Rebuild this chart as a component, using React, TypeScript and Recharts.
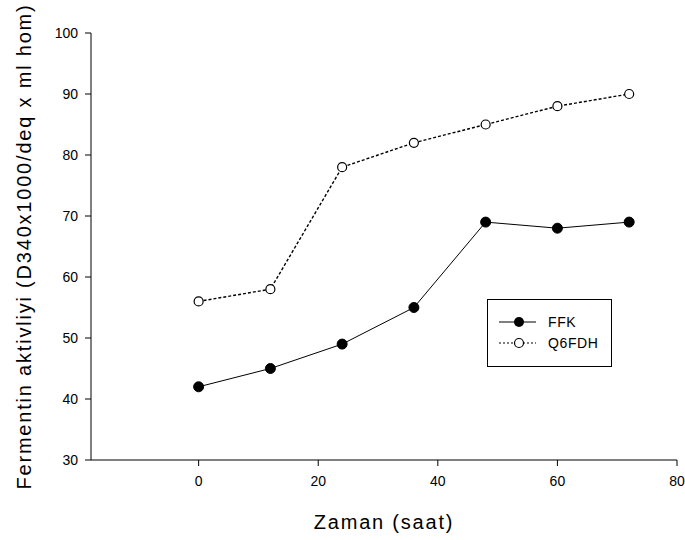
import { LineChart, Line, XAxis, YAxis, Legend } from "recharts";

const hours = [0, 12, 24, 36, 48, 60, 72];
const ffk = [42, 45, 49, 55, 69, 68, 69];
const q6fdh = [56, 58, 78, 82, 85, 88, 90];
const xTicks = [0, 20, 40, 60, 80];
const yTicks = [30, 40, 50, 60, 70, 80, 90, 100];

const data = hours.map((h, i) => ({ h, ffk: ffk[i], q6fdh: q6fdh[i] }));

const font = "'Liberation Sans', Arial, sans-serif";

function LegendBox() {
  return (
    <div
      style={{
        width: 125,
        height: 68,
        border: "1px solid #000",
        background: "#fff",
        boxSizing: "border-box",
      }}
    >
      <svg width={123} height={66} style={{ display: "block" }}>
        <line x1={11} y1={22} x2={48} y2={22} stroke="#000" strokeWidth={1} />
        <circle cx={31} cy={22} r={5} fill="#000" />
        <text x={60} y={27} fontSize={14} fontFamily={font} letterSpacing={0.6}>FFK</text>
        <line x1={11} y1={43} x2={48} y2={43} stroke="#000" strokeWidth={1.2} strokeDasharray="2 2" />
        <circle cx={31} cy={43} r={4.5} fill="#fff" stroke="#000" strokeWidth={1.2} />
        <text x={60} y={48} fontSize={14} fontFamily={font} letterSpacing={0.6}>Q6FDH</text>
      </svg>
    </div>
  );
}

export default function App() {
  return (
    <div style={{ position: "absolute", left: 0, top: 0 }}>
      <LineChart
        width={685}
        height={540}
        data={data}
        margin={{ top: 33, right: 8, bottom: 0, left: 0 }}
        style={{ fontFamily: font }}
      >
        <XAxis
          dataKey="h"
          type="number"
          domain={[-18, 80]}
          ticks={xTicks}
          allowDataOverflow
          stroke="#000"
          tickSize={6}
          tick={{ fill: "#000", fontSize: 14 }}
          tickMargin={10}
          height={80}
          label={{
            value: "Zaman (saat)",
            position: "insideBottom",
            offset: 11,
            fontSize: 20,
            fill: "#000",
            style: { letterSpacing: "1.8px" },
          }}
        />
        <XAxis
          xAxisId="top"
          dataKey="h"
          type="number"
          domain={[-18, 80]}
          orientation="top"
          stroke="#000"
          tick={false}
          tickLine={false}
          height={0}
        />
        <YAxis
          type="number"
          domain={[30, 100]}
          ticks={yTicks}
          stroke="#000"
          tickSize={6}
          tick={{ fill: "#000", fontSize: 14 }}
          tickMargin={7}
          width={91}
          label={{
            value: "Fermentin aktivliyi (D340x1000/deq x ml hom)",
            angle: -90,
            position: "insideLeft",
            offset: 24,
            fontSize: 20,
            fill: "#000",
            style: { textAnchor: "middle", letterSpacing: "1.8px" },
          }}
        />
        <YAxis
          yAxisId="right"
          type="number"
          domain={[30, 100]}
          orientation="right"
          stroke="#000"
          tick={false}
          tickLine={false}
          width={0}
        />
        <Legend
          layout="vertical"
          verticalAlign="middle"
          align="center"
          wrapperStyle={{ left: 487, top: 299, width: 125 }}
          content={() => <LegendBox />}
        />
        <Line
          dataKey="ffk"
          stroke="#000"
          strokeWidth={1}
          dot={{ r: 5, fill: "#000", stroke: "#000", strokeWidth: 1 }}
          isAnimationActive={false}
        />
        <Line
          dataKey="q6fdh"
          stroke="#000"
          strokeWidth={1.4}
          strokeDasharray="3 2"
          dot={{ r: 4.5, fill: "#fff", stroke: "#000", strokeWidth: 1.2, strokeDasharray: "" }}
          isAnimationActive={false}
        />
      </LineChart>
    </div>
  );
}
